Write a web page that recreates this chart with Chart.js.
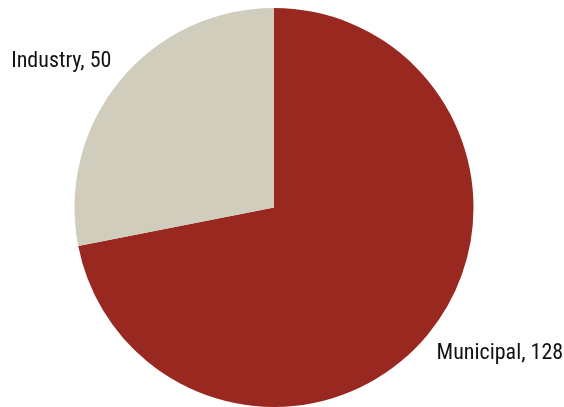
<!DOCTYPE html>
<html>
<head>
<meta charset="utf-8">
<style>
  html, body { margin: 0; padding: 0; background: #fff; }
  #pie { display: block; }
</style>
<script src="https://cdn.jsdelivr.net/npm/chart.js@4/dist/chart.umd.min.js"></script>
</head>
<body>
<canvas id="pie" width="564" height="407"></canvas>
<script>
// Water use by sector
const sectors = ["Municipal", "Industry"];
const volumes = [128, 50];
const sliceColors = ["#992820", "#d0cdbd"];

const labelFont = "22px 'Liberation Sans Narrow', 'Roboto Condensed', Roboto, sans-serif";

// Labels "Name, value" set just outside each slice
const outsideLabels = {
  id: "outsideLabels",
  afterDatasetsDraw(chart) {
    const ctx = chart.ctx;
    const meta = chart.getDatasetMeta(0);
    ctx.save();
    ctx.font = labelFont;
    ctx.fillStyle = "#111";
    ctx.textBaseline = "middle";
    meta.data.forEach((arc, i) => {
      const p = arc.getProps(["x", "y", "startAngle", "endAngle", "outerRadius"], true);
      const mid = (p.startAngle + p.endAngle) / 2;
      const x = p.x + Math.cos(mid) * (p.outerRadius + 11);
      const y = p.y + Math.sin(mid) * (p.outerRadius + 30);
      ctx.textAlign = Math.cos(mid) < 0 ? "right" : "left";
      ctx.fillText(sectors[i] + ", " + volumes[i], x, y);
    });
    ctx.restore();
  }
};

new Chart(document.getElementById("pie"), {
  type: "pie",
  data: {
    labels: sectors,
    datasets: [{
      data: volumes,
      backgroundColor: sliceColors,
      borderWidth: 0
    }]
  },
  options: {
    responsive: false,
    animation: false,
    layout: { padding: { top: 8, bottom: 0, left: 0, right: 16 } },
    plugins: {
      legend: { display: false },
      tooltip: { enabled: false }
    }
  },
  plugins: [outsideLabels]
});
</script>
</body>
</html>
